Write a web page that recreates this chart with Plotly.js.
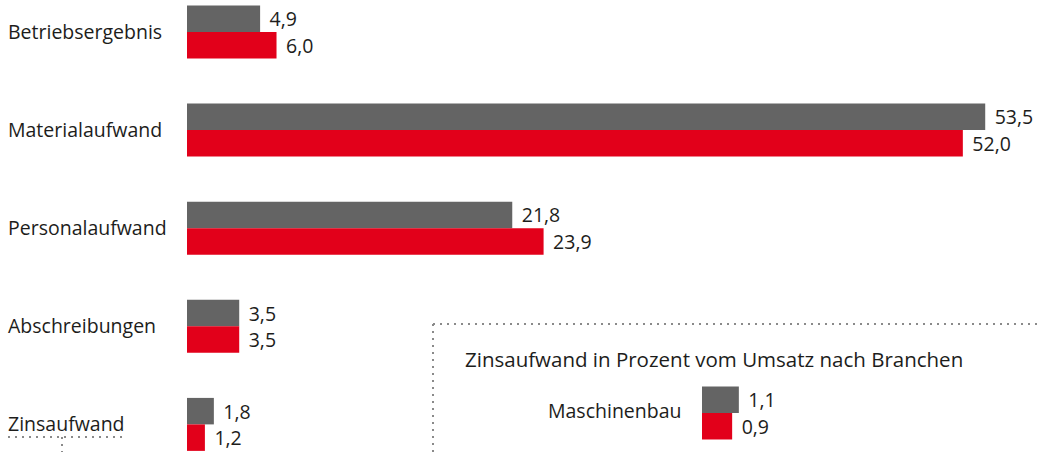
<!DOCTYPE html>
<html>
<head>
<meta charset="utf-8">
<script src="https://cdn.plot.ly/plotly-3.0.1.min.js"></script>
<style>
  html, body { margin: 0; padding: 0; background: #ffffff; }
  #chart { width: 1039px; height: 452px; }
</style>
</head>
<body>
<div id="chart"></div>
<script>
// ---- data ----
const categories = ['Betriebsergebnis', 'Materialaufwand', 'Personalaufwand', 'Abschreibungen', 'Zinsaufwand'];
const seriesGray = [4.9, 53.5, 21.8, 3.5, 1.8];
const seriesRed = [6.0, 52.0, 23.9, 3.5, 1.2];
const insetTitle = 'Zinsaufwand in Prozent vom Umsatz nach Branchen';
const insetCategories = ['Maschinenbau'];
const insetGray = [1.1];
const insetRed = [0.9];

// ---- style ----
const GRAY = '#646464';
const RED = '#e2001a';
const TEXT = '#1d1d1b';
const DOT = '#8a8a8a';
const FONT = 'Open Sans, sans-serif';
const W = 1039, H = 452, L = 187, R = 2;
const PW = W - L - R;
const px = x => (x - L) / PW;       // pixel x -> paper
const py = y => (H - y) / H;        // pixel y -> paper

function barTrace(x, y, color, xa, ya) {
  return {
    type: 'bar', orientation: 'h', x: x, y: y,
    xaxis: xa, yaxis: ya,
    marker: { color: color, line: { width: 0 } },
    texttemplate: '\u2004%{x:.1f}',
    textposition: 'outside',
    constraintext: 'none',
    cliponaxis: false,
    textfont: { family: FONT, size: 19.5, color: TEXT },
    hoverinfo: 'skip',
    showlegend: false
  };
}

const data = [
  barTrace(seriesGray, categories, GRAY, 'x', 'y'),
  barTrace(seriesRed, categories, RED, 'x', 'y'),
  barTrace(insetGray, insetCategories, GRAY, 'x2', 'y2'),
  barTrace(insetRed, insetCategories, RED, 'x2', 'y2')
];

const hidden = { showgrid: false, zeroline: false, showline: false, showticklabels: false, ticks: '', fixedrange: true };

const catSpacing = 98.1;
const annotations = categories.map(c => ({
  text: c, x: px(6), xref: 'paper', xanchor: 'left',
  y: c, yref: 'y', yanchor: 'middle', yshift: 1,
  showarrow: false, font: { family: FONT, size: 19.5, color: TEXT }
}));
annotations.push({
  text: insetTitle, x: px(463), xref: 'paper', xanchor: 'left',
  y: py(358.5), yref: 'paper', yanchor: 'middle',
  showarrow: false, font: { family: FONT, size: 20.5, color: TEXT }
});
insetCategories.forEach(c => annotations.push({
  text: c, x: px(546), xref: 'paper', xanchor: 'left',
  y: c, yref: 'y2', yanchor: 'middle', yshift: 3,
  showarrow: false, font: { family: FONT, size: 19.5, color: TEXT }
}));

const dotLine = { color: DOT, width: 2, dash: '2px,5px' };
const shapes = [
  { type: 'line', xref: 'paper', yref: 'paper', x0: px(433), x1: px(1039), y0: py(324), y1: py(324), line: dotLine },
  { type: 'line', xref: 'paper', yref: 'paper', x0: px(433), x1: px(433), y0: py(324), y1: py(452), line: dotLine },
  { type: 'line', xref: 'paper', yref: 'paper', x0: px(8), x1: px(124), y0: py(437), y1: py(437), line: dotLine },
  { type: 'line', xref: 'paper', yref: 'paper', x0: px(62), x1: px(62), y0: py(437), y1: py(452), line: dotLine }
];

const insetTop = 380, insetBot = 446;
const insetHalf = (insetBot - insetTop) / catSpacing / 2;

const layout = {
  width: W, height: H,
  margin: { l: L, r: R, t: 0, b: 0, pad: 0 },
  paper_bgcolor: '#ffffff', plot_bgcolor: '#ffffff',
  barmode: 'group', bargap: 0.46, bargroupgap: 0,
  separators: ',.',
  font: { family: FONT, color: TEXT },
  xaxis: Object.assign({ range: [0, PW / 14.92], domain: [0, 1] }, hidden),
  yaxis: Object.assign({ type: 'category', range: [(H - 32) / catSpacing, -32 / catSpacing], domain: [0, 1] }, hidden),
  xaxis2: Object.assign({ range: [0, (PW - (702 - L)) / 33.5], domain: [px(702), 1], anchor: 'y2' }, hidden),
  yaxis2: Object.assign({ type: 'category', range: [insetHalf, -insetHalf], domain: [py(insetBot), py(insetTop)], anchor: 'x2' }, hidden),
  annotations: annotations,
  shapes: shapes,
  showlegend: false
};

Plotly.newPlot('chart', data, layout, { displayModeBar: false, staticPlot: true });
</script>
</body>
</html>
